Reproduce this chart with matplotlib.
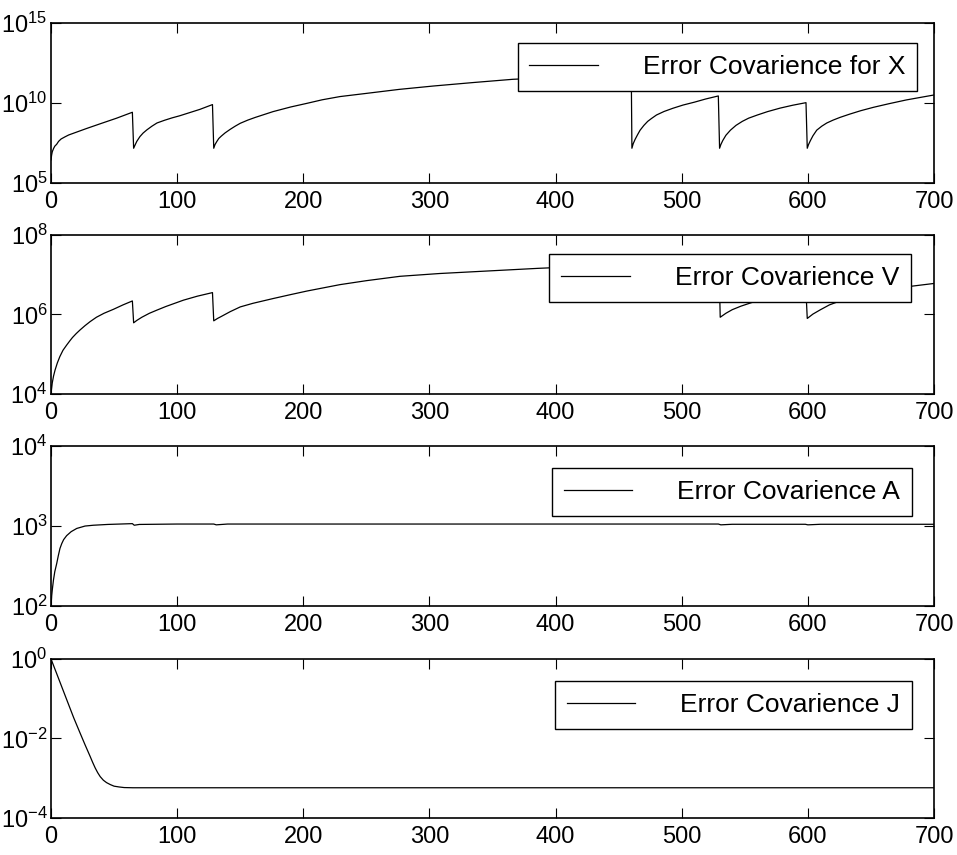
import numpy as np
import matplotlib
matplotlib.use('Agg')
import matplotlib.pyplot as plt
from matplotlib.ticker import FixedLocator, NullLocator

plt.rcParams['font.family'] = ['Liberation Sans', 'DejaVu Sans']
plt.rcParams['mathtext.fontset'] = 'custom'
plt.rcParams['mathtext.rm'] = 'Liberation Sans'
plt.rcParams['mathtext.it'] = 'Liberation Sans:italic'

# values, stored as log10 of the covariance
x_t = [0, 0.5, 1, 2, 3, 4.5, 6, 8, 11, 14, 17.5, 28, 39, 52, 64.5,
       65.5, 66.5, 68, 70.5, 73, 76, 80, 84, 90, 96, 102, 110, 118, 128,
       129, 130, 131.5, 133, 135, 138, 142, 146, 150, 156, 162, 169, 176, 190, 203, 215, 229,
       250, 276, 303, 335, 366, 400, 430, 460,
       460.5, 461.5, 463, 465, 467, 470, 473, 476, 480, 486, 493, 501, 510, 519, 529,
       530, 531, 532.5, 535, 538.6, 543, 548, 553, 560, 568, 578, 588, 598.5,
       599.5, 600.5, 602, 604, 607, 611, 615, 620, 625.5, 633, 642, 652, 664, 678, 690, 700]
x_exp = [6.44, 6.75, 6.95, 7.15, 7.3, 7.42, 7.6, 7.75, 7.88, 8.0, 8.1, 8.4, 8.7, 9.05, 9.42,
         7.17, 7.35, 7.6, 7.9, 8.12, 8.32, 8.55, 8.75, 8.92, 9.07, 9.2, 9.4, 9.6, 9.9,
         7.17, 7.4, 7.6, 7.78, 7.93, 8.13, 8.35, 8.55, 8.73, 8.93, 9.1, 9.28, 9.46, 9.75, 9.98, 10.2, 10.4,
         10.6, 10.85, 11.06, 11.28, 11.48, 11.6, 11.72, 11.82,
         7.17, 7.45, 7.72, 8.02, 8.3, 8.6, 8.85, 9.03, 9.25, 9.47, 9.67, 9.87, 10.05, 10.25, 10.44,
         7.17, 7.4, 7.65, 7.98, 8.3, 8.6, 8.85, 9.05, 9.25, 9.46, 9.68, 9.86, 10.02,
         7.17, 7.4, 7.65, 7.95, 8.3, 8.55, 8.75, 8.93, 9.1, 9.3, 9.52, 9.73, 9.95, 10.19, 10.36, 10.5]

v_t = [0, 0.5, 1, 2, 3.2, 5, 7, 9.5, 12.4, 15, 17, 20, 23, 27, 31, 36, 42, 49.5, 57, 64.5,
       65.5, 68, 72, 78, 84, 91, 98, 105, 116, 128,
       129, 132, 135, 142, 150, 160, 176, 190, 203, 216, 229, 250, 276.7, 308, 350, 386, 430, 480, 529.5,
       530.5, 535, 540, 547, 555.5, 565, 575, 587, 598.5,
       599.5, 604, 610, 617, 625.5, 637, 650, 665, 682, 700]
v_exp = [4.02, 4.15, 4.28, 4.45, 4.6, 4.78, 4.94, 5.1, 5.23, 5.34, 5.42, 5.52, 5.61, 5.72, 5.82, 5.93, 6.03, 6.13, 6.24, 6.34,
         5.79, 5.85, 5.93, 6.03, 6.11, 6.2, 6.28, 6.36, 6.46, 6.55,
         5.84, 5.9, 5.95, 6.07, 6.19, 6.28, 6.4, 6.5, 6.59, 6.67, 6.75, 6.85, 6.96, 7.03, 7.1, 7.16, 7.22, 7.27, 7.32,
         5.93, 6.03, 6.12, 6.21, 6.3, 6.38, 6.45, 6.52, 6.57,
         5.9, 6.01, 6.12, 6.24, 6.34, 6.44, 6.52, 6.62, 6.71, 6.78]

a_t = [0, 0.5, 1, 1.9, 3, 4.5, 5.8, 7.1, 8.5, 10, 12.4, 16, 20.4, 27, 33.5, 45, 64.5, 66, 70, 100,
       129, 131, 140, 300, 529, 531, 540, 598, 600, 610, 700]
a_exp = [2.0, 2.12, 2.2, 2.32, 2.43, 2.53, 2.63, 2.72, 2.78, 2.83, 2.88, 2.93, 2.97, 3.0, 3.01, 3.02, 3.03, 3.01, 3.02, 3.025,
         3.025, 3.015, 3.025, 3.025, 3.025, 3.015, 3.022, 3.022, 3.015, 3.022, 3.022]

j_t = [0, 5, 12.4, 18, 23, 27, 31, 33, 35, 37, 39, 41.5, 44, 47, 50, 54, 58, 65, 700]
j_exp = [0.0, -0.41, -1.02, -1.48, -1.86, -2.16, -2.45, -2.6, -2.74, -2.86, -2.96, -3.05, -3.11, -3.16, -3.2, -3.22,
         -3.235, -3.24, -3.24]

labels = ['Error Covarience for X', 'Error Covarience V', 'Error Covarience A', 'Error Covarience J']
y_ticks = [[1e5, 1e10, 1e15], [1e4, 1e6, 1e8], [1e2, 1e3, 1e4], [1e-4, 1e-2, 1e0]]
x_ticks = [0, 100, 200, 300, 400, 500, 600, 700]

series = [(x_t, x_exp), (v_t, v_exp), (a_t, a_exp), (j_t, j_exp)]
boxes = [(0.0533, 0.786, 0.9227, 0.1871), (0.0533, 0.5392, 0.9227, 0.186),
         (0.0533, 0.2912, 0.9227, 0.1871), (0.0533, 0.0433, 0.9227, 0.186)]
anchors = [(0.981, 0.875), (0.974, 0.881), (0.975, 0.8625), (0.975, 0.862)]


def main():
    fig = plt.figure(figsize=(9.57, 8.55), dpi=100)
    for i in range(4):
        ax = fig.add_axes(boxes[i])
        t, e = series[i]
        ax.plot(t, 10.0 ** np.array(e), color='black', lw=0.9, label=labels[i])
        ax.set_yscale('log')
        ax.set_xlim(0, 700)
        ax.set_ylim(y_ticks[i][0], y_ticks[i][-1])
        ax.yaxis.set_major_locator(FixedLocator(y_ticks[i]))
        ax.yaxis.set_minor_locator(NullLocator())
        ax.set_xticks(x_ticks)
        ax.tick_params(direction='in', length=7, width=0.8, top=True, right=True,
                       labelsize=17, pad=2.5)
        ax.tick_params(axis='x', pad=6)
        for s in ax.spines.values():
            s.set_linewidth(1.2)
        leg = ax.legend(loc='upper right', bbox_to_anchor=anchors[i], borderaxespad=0,
                        fancybox=False, edgecolor='black', framealpha=1, fontsize=19,
                        handlelength=2.6, handletextpad=1.7, borderpad=0.45)
        leg.get_frame().set_linewidth(1.0)

    fig.savefig('out.png', dpi=100)


if __name__ == '__main__':
    main()
